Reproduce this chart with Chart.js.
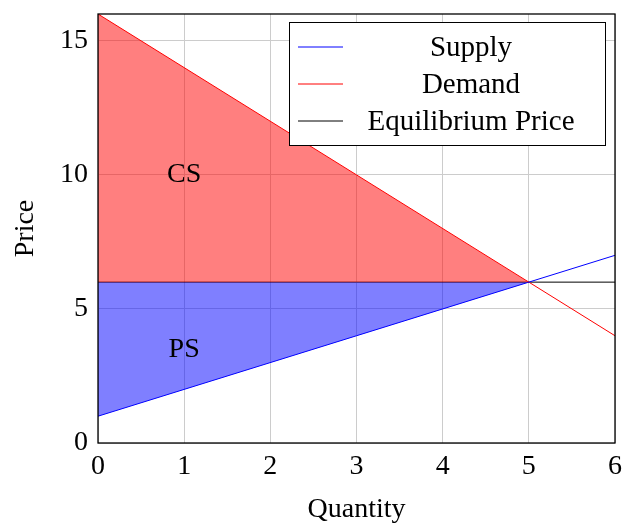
<!DOCTYPE html>
<html>
<head>
<meta charset="utf-8">
<script src="https://cdn.jsdelivr.net/npm/chart.js@4"></script>
<style>
  html, body { margin: 0; padding: 0; background: #fff; }
  #wrap { width: 626px; height: 526px; }
</style>
</head>
<body>
<div id="wrap"><canvas id="chart" width="626" height="526"></canvas></div>
<script>
// data
const quantity = [0, 6];
const supplyPrice = [1, 7];
const demandPrice = [16, 4];
const eqQuantity = 5;
const eqPrice = 6;
const xTicks = [0, 1, 2, 3, 4, 5, 6];
const yTicks = [0, 5, 10, 15];
const areaLabels = [
  { text: "CS", x: 1, y: 10 },
  { text: "PS", x: 1, y: 3.5 }
];
const legendNames = ["Supply", "Demand", "Equilibrium Price"];
const legendColors = ["#0000ff", "#ff0000", "#000000"];

const FONT = "'Liberation Serif', 'DejaVu Serif', serif";
const FSIZE = 28;

const pts = (xs, ys) => xs.map((x, i) => ({ x: x, y: ys[i] }));

// no extra room for overhanging tick labels, the layout padding decides
function noOverhang(s) {
  s.paddingTop = 0;
  s.paddingBottom = 0;
  s.paddingLeft = 0;
  s.paddingRight = 0;
}

// frame, area labels and the legend box
const extras = {
  id: "extras",
  afterDatasetsDraw(chart) {
    const ctx = chart.ctx;
    const a = chart.chartArea;
    const xs = chart.scales.x, ys = chart.scales.y;
    ctx.save();
    ctx.fillStyle = "#000";
    ctx.font = FSIZE + "px " + FONT;
    ctx.textAlign = "center";
    ctx.textBaseline = "middle";
    areaLabels.forEach(l => {
      ctx.fillText(l.text, xs.getPixelForValue(l.x), ys.getPixelForValue(l.y));
    });

    // axis box
    ctx.strokeStyle = "#000";
    ctx.lineWidth = 1.3;
    ctx.strokeRect(a.left, a.top, a.right - a.left, a.bottom - a.top);

    // legend
    const bx = 289, by = 22, bw = 316, bh = 123;
    ctx.fillStyle = "#fff";
    ctx.fillRect(bx, by, bw, bh);
    ctx.lineWidth = 1;
    ctx.strokeRect(bx + 0.5, by + 0.5, bw, bh);
    ctx.font = "29px " + FONT;
    legendNames.forEach((name, i) => {
      const y = by + 25 + i * 37;
      ctx.strokeStyle = legendColors[i];
      ctx.beginPath();
      ctx.moveTo(bx + 9, y);
      ctx.lineTo(bx + 54, y);
      ctx.stroke();
      ctx.fillStyle = "#000";
      ctx.fillText(name, bx + 182, y + 1);
    });
    ctx.restore();
  }
};

new Chart(document.getElementById("chart"), {
  type: "line",
  data: {
    datasets: [
      {
        label: "CS",
        data: pts([0, eqQuantity], [demandPrice[0], eqPrice]),
        borderWidth: 0,
        pointRadius: 0,
        backgroundColor: "rgba(255,0,0,0.5)",
        fill: { target: 2 }
      },
      {
        label: "PS",
        data: pts([0, eqQuantity], [supplyPrice[0], eqPrice]),
        borderWidth: 0,
        pointRadius: 0,
        backgroundColor: "rgba(0,0,255,0.5)",
        fill: { target: 2 }
      },
      {
        label: "eqBase",
        data: pts([0, eqQuantity], [eqPrice, eqPrice]),
        borderWidth: 0,
        pointRadius: 0,
        fill: false
      },
      {
        label: legendNames[0],
        data: pts(quantity, supplyPrice),
        borderColor: legendColors[0],
        borderWidth: 1,
        pointRadius: 0,
        fill: false
      },
      {
        label: legendNames[1],
        data: pts(quantity, demandPrice),
        borderColor: legendColors[1],
        borderWidth: 1,
        pointRadius: 0,
        fill: false
      },
      {
        label: legendNames[2],
        data: pts(quantity, [eqPrice, eqPrice]),
        borderColor: legendColors[2],
        borderWidth: 1,
        pointRadius: 0,
        fill: false
      }
    ]
  },
  options: {
    responsive: false,
    animation: false,
    layout: { padding: { top: 14, right: 11, left: 0, bottom: 0 } },
    plugins: {
      legend: { display: false },
      tooltip: { enabled: false },
      filler: { propagate: false }
    },
    scales: {
      x: {
        type: "linear",
        min: 0,
        max: 6,
        afterBuildTicks: s => { s.ticks = xTicks.map(v => ({ value: v })); },
        afterFit: s => { s.height = 83; noOverhang(s); },
        grid: { color: "#cccccc", drawTicks: false },
        border: { display: false },
        ticks: {
          padding: 7,
          color: "#000",
          font: { family: FONT, size: FSIZE },
          maxRotation: 0
        },
        title: {
          display: true,
          text: "Quantity",
          color: "#000",
          font: { family: FONT, size: FSIZE },
          padding: { top: 0, bottom: 0 }
        }
      },
      y: {
        type: "linear",
        min: 0,
        max: 16,
        afterBuildTicks: s => { s.ticks = yTicks.map(v => ({ value: v })); },
        afterFit: s => { s.width = 98; noOverhang(s); },
        grid: { color: "#cccccc", drawTicks: false },
        border: { display: false },
        ticks: {
          padding: 10,
          color: "#000",
          font: { family: FONT, size: FSIZE }
        },
        title: {
          display: true,
          text: "Price",
          color: "#000",
          font: { family: FONT, size: FSIZE },
          padding: { top: 9, bottom: 0 }
        }
      }
    }
  },
  plugins: [extras]
});
</script>
</body>
</html>
